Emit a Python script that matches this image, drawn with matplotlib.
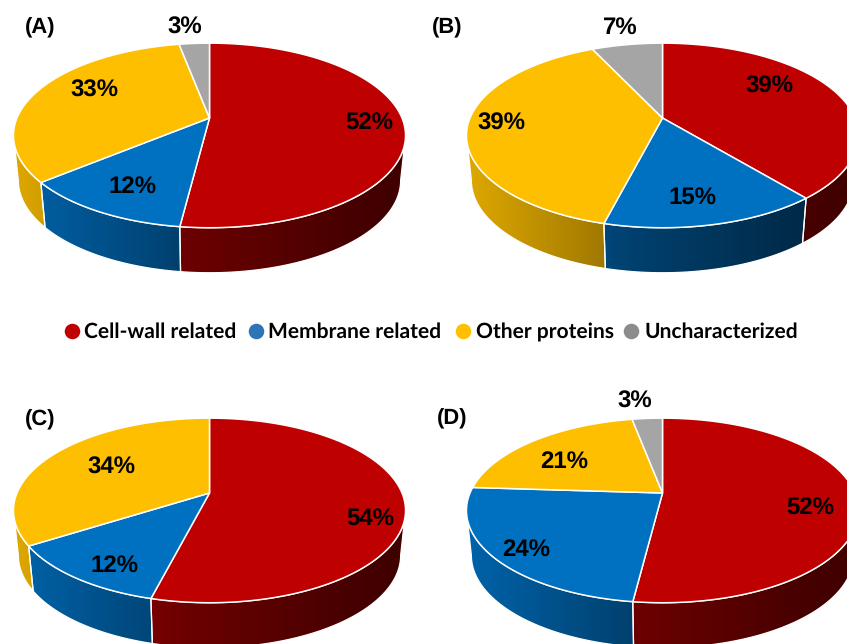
"""
Four perspective pies with a shaded rim, protein classes per panel.
"""
import numpy as np
import matplotlib
matplotlib.use('Agg')
import matplotlib.pyplot as plt
from matplotlib.patches import Polygon

plt.rcParams['text.hinting'] = 'no_hinting'
plt.rcParams['text.hinting_factor'] = 1

panels = ['(A)', '(B)', '(C)', '(D)']
categories = ['Cell-wall related', 'Membrane related', 'Other proteins', 'Uncharacterized']
values_a = [52, 12, 33, 3]
values_b = [39, 15, 39, 7]
values_c = [54, 12, 34]
values_d = [52, 24, 21, 3]

slice_colors = ['#BF0000', '#0070C0', '#FDBF00', '#A5A5A5']
legend_colors = ['#C00000', '#2E75B6', '#FFC000', '#8C8C8C']

## pixel layout: pie apex, panel label, centre of each percent label
centers = [(209.5, 118), (662.5, 118), (209.5, 493), (662.5, 493)]
panel_pos = [(40, 27), (447, 27), (40, 419), (452, 418)]
pct_pos = [[(369, 122), (133, 185), (94, 89), (185, 26)],
           [(769, 85), (692, 196), (501, 122), (620, 26)],
           [(370, 517), (114, 564), (111, 466)],
           [(810, 507), (526, 548), (564, 460), (635, 400)]]
legend_marker_x = [72, 256, 463, 631]
legend_text_x = [84, 268, 476, 644]
legend_y = 331
legend_baseline = 338

RX, RY, K = 192.5, 89.0, 0.189  # perspective of the top disc
DEPTH, SHRINK = 45.0, 0.975     # rim height, and how much narrower its lower edge is
SHADE_X = [-196, -58, -29, 143, 196]
SHADE_F = [0.88, 0.63, 0.57, 0.37, 0.33]
## the rim only shows between the two points where the disc is widest
FRONT = np.arccos(-K) / (2 * np.pi)


def project(frac, cx, cy):
    """Map a cumulative pie fraction (clockwise from the top) to pixels."""
    ang = 2 * np.pi * np.asarray(frac)
    x, y = np.sin(ang), np.cos(ang)
    den = 1 + K * y
    return cx + RX * x / den, cy - RY * y / den


def draw_pie(ax, values, cx, cy):
    total = float(sum(values))
    edges = np.cumsum([0] + list(values)) / total
    ## rim first
    for i in range(len(values)):
        lo = max(edges[i], FRONT)
        hi = min(edges[i + 1], 1 - FRONT)
        if hi <= lo:
            continue
        xt, yt = project(np.linspace(lo, hi, 120), cx, cy)
        xb = cx + SHRINK * (xt - cx)
        yb = yt + DEPTH
        pts = np.r_[np.c_[xt, yt], np.c_[xb, yb][::-1]]
        dx = np.linspace(-200, 200, 256)
        shade = np.interp(dx, SHADE_X, SHADE_F)
        rgb = np.array(matplotlib.colors.to_rgb(slice_colors[i]))
        grad = (shade[:, None] * rgb)[None, :, :]
        im = ax.imshow(grad, extent=(cx - 200, cx + 200, cy + 170, cy - 100),
                       aspect='auto', interpolation='bilinear', zorder=2)
        im.set_clip_path(Polygon(pts, closed=True, transform=ax.transData))
        ax.add_patch(Polygon(pts, closed=True, fc='none', ec='white', lw=0.9, zorder=3))
    for i in range(len(values)):
        frac = np.linspace(edges[i], edges[i + 1], 200)
        xt, yt = project(frac, cx, cy)
        pts = np.r_[[[cx, cy]], np.c_[xt, yt]]
        ax.add_patch(Polygon(pts, closed=True, fc=slice_colors[i], ec='white',
                             lw=1.1, joinstyle='round', zorder=4))


fig = plt.figure(figsize=(8.47, 6.44), dpi=100)
ax = fig.add_axes([0, 0, 1, 1])

all_values = [values_a, values_b, values_c, values_d]
for p in range(4):
    cx, cy = centers[p]
    draw_pie(ax, all_values[p], cx, cy)
    ax.text(panel_pos[p][0], panel_pos[p][1] + 0.5, panels[p], family='Liberation Sans',
            fontweight='bold', fontsize=16, ha='center', va='center', zorder=6)
    for v, (tx, ty) in zip(all_values[p], pct_pos[p]):
        ax.text(tx, ty + 1.5, '%d%%' % v, family='Liberation Sans', fontweight='bold',
                fontsize=17, ha='center', va='center', zorder=6)

for i in range(4):
    ax.scatter(legend_marker_x[i], legend_y, s=125, color=legend_colors[i], lw=0, zorder=6)
    ax.text(legend_text_x[i], legend_baseline, categories[i], family='Lato', fontweight='bold',
            fontsize=15.4, ha='left', va='baseline', zorder=6)

ax.set_xlim(0, 847)
ax.set_ylim(644, 0)
ax.axis('off')
fig.savefig('out.png', dpi=100)
